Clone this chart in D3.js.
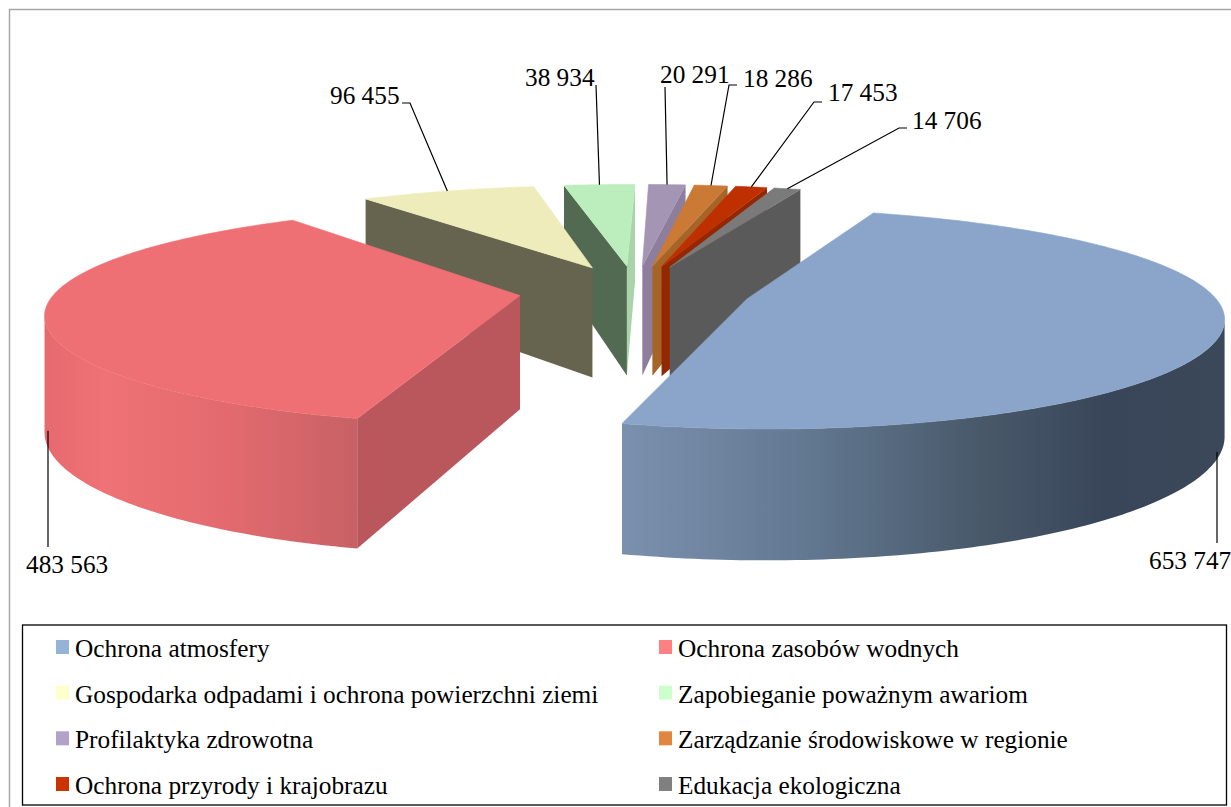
<!DOCTYPE html>
<html>
<head>
<meta charset="utf-8">
<script src="https://cdn.jsdelivr.net/npm/d3@7"></script>
<style>
html, body { margin: 0; padding: 0; background: #fff; }
svg { display: block; }
text { font-family: "Liberation Serif", serif; fill: #000; }
</style>
</head>
<body>
<script>
// chart data
var categories = ["Ochrona atmosfery", "Ochrona zasobów wodnych", "Gospodarka odpadami i ochrona powierzchni ziemi",
    "Zapobieganie poważnym awariom", "Profilaktyka zdrowotna", "Zarządzanie środowiskowe w regionie",
    "Ochrona przyrody i krajobrazu", "Edukacja ekologiczna"];
var values = [653747, 483563, 96455, 38934, 20291, 18286, 17453, 14706];
var valueLabels = ["653 747", "483 563", "96 455", "38 934", "20 291", "18 286", "17 453", "14 706"];

var topColors = ["#8aa5c9", "#ee7074", "#eeecba", "#bcedbc", "#a595b5", "#cb7a35", "#bf3000", "#7a7a7a"];
var startWallColors = ["#6d83a0", "#b9575c", "#66644e", "#526a52", "#8e7e9d", "#a56428", "#952700", "#5a5a5a"];
var endWallColors = ["#6d83a0", "#b9575c", "#b5b38c", "#a9d4a9", "#8e7e9d", "#a56428", "#952700", "#5a5a5a"];
var legendColors = ["#95b3d7", "#ff8083", "#ffffcc", "#ccffcc", "#b3a2c7", "#e0863f", "#cc3300", "#808080"];

var w = 1231;
var h = 807;

// 3d pie set up, angles clockwise from the back of the pie
var cx = 635, cy = 291;
var radius = 464;
var squash = 104;      // screen height of one radius in depth
var persp = 0.176;
var xPersp = 0.15;
var depth = 113;
var depthPersp = 0.13;
var explode = 0.25;
var startAngle = 20 * Math.PI / 180;

var svg = d3.select("body").append("svg").attr("width", w).attr("height", h);

var defs = svg.append("defs");
function addGradient(id, x1, x2, stops) {
    var g = defs.append("linearGradient").attr("id", id)
        .attr("gradientUnits", "userSpaceOnUse")
        .attr("x1", x1).attr("x2", x2).attr("y1", 0).attr("y2", 0);
    stops.forEach(function(s) {
        g.append("stop").attr("offset", s[0]).attr("stop-color", s[1]);
    });
}
addGradient("rim0", 622, 1226, [[0, "#7a90ae"], [0.3, "#637992"], [0.6, "#485869"], [0.8, "#39465a"], [1, "#3b4859"]]);
addGradient("rim1", 42, 357, [[0, "#e5696e"], [0.2, "#ee7276"], [0.6, "#e26a6e"], [1, "#c76165"]]);

// outer frame
svg.append("path").attr("d", "M9.5,807V9.5H1231").attr("fill", "none").attr("stroke", "#a6a6a6").attr("stroke-width", 1.5);

var pie = d3.pie().sort(null).startAngle(startAngle).endAngle(startAngle + 2 * Math.PI);
var slices = pie(values);

var line = d3.line().x(function(p) { return p[0]; }).y(function(p) { return p[1]; });

// world point in the pie plane (unit radius) to screen, level 0 = top, 1 = bottom
function project(X, Z, level) {
    var sx = 1 / (1 - xPersp * Z);
    var sy = 1 / (1 - persp * Z);
    var drop = level * depth / (1 - depthPersp * Z);
    return [cx + X * radius * sx, cy + Z * squash * sy + drop];
}

function apexOf(d) {
    var mid = (d.startAngle + d.endAngle) / 2;
    return [explode * Math.sin(mid), -explode * Math.cos(mid)];
}

function rimPoint(d, a, level) {
    var o = apexOf(d);
    return project(o[0] + Math.sin(a), o[1] - Math.cos(a), level);
}

// back slices first
var drawOrder = slices.slice().sort(function(a, b) {
    return Math.cos((b.startAngle + b.endAngle) / 2) - Math.cos((a.startAngle + a.endAngle) / 2);
});

var chart = svg.append("g");

drawOrder.forEach(function(d) {
    var i = d.index;
    var g = chart.append("g").attr("class", "slice");
    var o = apexOf(d);
    var apexTop = project(o[0], o[1], 0), apexBot = project(o[0], o[1], 1);

    // flat walls, only the ones facing the viewer
    var wallA = [apexTop, rimPoint(d, d.startAngle, 0), rimPoint(d, d.startAngle, 1), apexBot];
    var wallB = [apexTop, rimPoint(d, d.endAngle, 0), rimPoint(d, d.endAngle, 1), apexBot];
    if (d3.polygonArea(wallB) < 0) {
        g.append("path").attr("d", line(wallB) + "Z").attr("fill", endWallColors[i]);
    }
    if (d3.polygonArea(wallA) > 0) {
        g.append("path").attr("d", line(wallA) + "Z").attr("fill", startWallColors[i]);
    }

    // sample the arc
    var n = Math.max(8, Math.round((d.endAngle - d.startAngle) * 60));
    var angles = d3.range(n + 1).map(function(k) {
        return d.startAngle + (d.endAngle - d.startAngle) * k / n;
    });

    // outer rim, keep the part facing the viewer
    function segVisible(k) {
        if (k < 0 || k >= n) return false;
        var a = angles[k], b = angles[k + 1];
        return d3.polygonArea([rimPoint(d, a, 0), rimPoint(d, b, 0), rimPoint(d, b, 1), rimPoint(d, a, 1)]) > 0;
    }
    var vis = angles.filter(function(a, k) {
        return segVisible(k) || segVisible(k - 1);
    });
    if (vis.length > 2) {
        var upper = vis.map(function(a) { return rimPoint(d, a, 0); });
        var lower = vis.map(function(a) { return rimPoint(d, a, 1); }).reverse();
        g.append("path").attr("d", line(upper.concat(lower)) + "Z").attr("fill", "url(#rim" + i + ")");
    }

    // top face, thin stroke hides the seam against the rim
    var face = [apexTop].concat(angles.map(function(a) { return rimPoint(d, a, 0); }));
    g.append("path").attr("d", line(face) + "Z").attr("fill", topColors[i])
        .attr("stroke", topColors[i]).attr("stroke-width", 0.6);
});

// value labels, [label x, label baseline, elbow y, elbow x, use bottom of rim]
var labelPos = [
    [1149, 569, 1217, null, 1], [26, 573, 48, null, 1],
    [330, 104, 103, 402, 0], [525, 86, 85, 596, 0],
    [660, 83, 87, 665, 0], [743, 87, 85, 737, 0],
    [828, 101, 102, 822, 0], [912, 129, 128, 907, 0]
];

slices.forEach(function(d) {
    var i = d.index, p = labelPos[i];
    var mid = (d.startAngle + d.endAngle) / 2;
    svg.append("text").attr("x", p[0]).attr("y", p[1]).attr("font-size", 25.3).text(valueLabels[i]);
    var a = rimPoint(d, mid, p[4]);
    var pts;
    if (p[3] === null) {
        pts = [[p[2], a[1]], [p[2], p[1] - 26]];
    } else if (i == 3 || i == 4) {
        pts = [[p[3], p[2]], a];
    } else {
        var dir = p[3] < a[0] ? 1 : -1;
        pts = [[p[3], p[2]], [p[3] + dir * 8, p[2]], a];
    }
    svg.append("path").attr("d", line(pts)).attr("fill", "none").attr("stroke", "#000").attr("stroke-width", 1.2);
});

// legend
svg.append("rect").attr("x", 22.5).attr("y", 625).attr("width", 1204).attr("height", 180)
    .attr("fill", "#fff").attr("stroke", "#000").attr("stroke-width", 1.3);

var legendCol = d3.scalePoint().domain([0, 1]).range([56, 659]);
var legendRow = d3.scalePoint().domain([0, 1, 2, 3]).range([640, 777]);

var legendItem = svg.selectAll("g.legend")
    .data(categories)
    .enter()
    .append("g")
    .attr("class", "legend")
    .attr("transform", function(d, i) {
        return "translate(" + legendCol(i % 2) + "," + legendRow(Math.floor(i / 2)) + ")";
    });

legendItem.append("rect")
    .attr("width", 13)
    .attr("height", 14)
    .attr("fill", function(d, i) { return legendColors[i]; });

legendItem.append("text")
    .attr("x", 19)
    .attr("y", 17)
    .attr("font-size", 25.3)
    .text(function(d) { return d; });
</script>
</body>
</html>
